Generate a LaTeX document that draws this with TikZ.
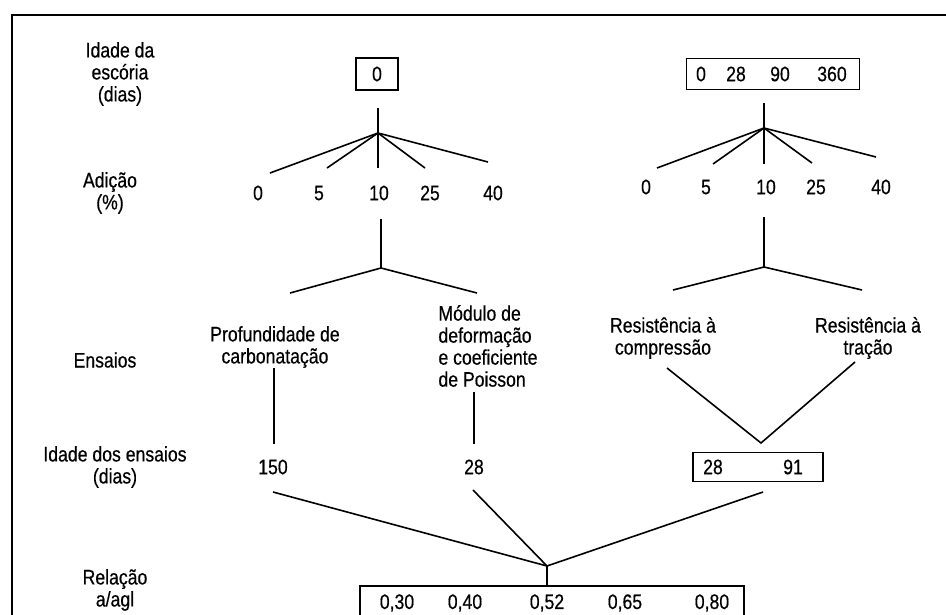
\documentclass[tikz,border=0pt]{standalone}
\usepackage{fontspec}
\setmainfont{Liberation Sans}[FakeStretch=0.84,FakeBold=0.5]
\begin{document}
\begin{tikzpicture}[x=1pt,y=-1pt,
  lbl/.style={font=\fontsize{21}{22}\selectfont, inner sep=0pt, align=center},
  lblL/.style={font=\fontsize{21}{22}\selectfont, inner sep=0pt, align=left},
  boxed/.style={draw, line width=1.6pt, inner sep=0pt},
  ln/.style={line width=1.6pt}]
\useasboundingbox (0,0) rectangle (946,614);
\clip (0,0) rectangle (946,614);
% frame (cut by the image edge)
\coordinate (fbl) at (12,650);
\coordinate (ftl) at (12,15);
\coordinate (ftr) at (960,15);
\draw[ln] (fbl) -- (ftl) -- (ftr);

% row labels
\node[lbl] (t1) at (120,74) {Idade da\\escória\\(dias)};
\node[lbl] (t2) at (110,193) {Adição\\(\%)};
\node[lbl] (t3) at (105,360) {Ensaios};
\node[lbl] (t4) at (115,467) {Idade dos ensaios\\(dias)};
\node[lbl] (t5) at (115,590) {Relação\\a/agl};

% ---------- left tree ----------
\node[boxed, lbl, minimum width=42pt, minimum height=32pt] (b0) at (377,74) {0};
\coordinate (a0) at (378,108);
\coordinate (h1) at (378,133);
\node[lbl] (n10) at (258,193) {0};
\node[lbl] (n15) at (319,193) {5};
\node[lbl] (n110) at (379,193) {10};
\node[lbl] (n125) at (430,193) {25};
\node[lbl] (n140) at (493,193) {40};
\coordinate (e10) at (270,173);
\coordinate (e15) at (327,168);
\coordinate (e110) at (378,168);
\coordinate (e125) at (425,168);
\coordinate (e140) at (488,162);
\draw[ln] (a0) -- (h1);
\foreach \e in {e10,e15,e110,e125,e140} \draw[ln] (h1) -- (\e);

\coordinate (v1) at (381,219);
\coordinate (g1) at (381,268);
\coordinate (gl1) at (290,293);
\coordinate (gr1) at (477,293);
\draw[ln] (v1) -- (g1);
\draw[ln] (gl1) -- (g1) -- (gr1);

\node[lbl] (pc) at (275,347) {Profundidade de\\carbonatação};
\node[lblL] (md) at (488,346) {Módulo de\\deformação\\e coeficiente\\de Poisson};
\coordinate (pc1) at (274,368);
\coordinate (pc2) at (274,444);
\coordinate (md1) at (474,392);
\coordinate (md2) at (474,444);
\draw[ln] (pc1) -- (pc2);
\draw[ln] (md1) -- (md2);
\node[lbl] (d150) at (273,467) {150};
\node[lbl] (d28) at (474,467) {28};

% ---------- right tree ----------
\node[boxed, minimum width=173pt, minimum height=31pt] (b1) at (773,74) {};
\node[lbl] (r0) at (701,74) {0};
\node[lbl] (r28) at (736,74) {28};
\node[lbl] (r90) at (780,74) {90};
\node[lbl] (r360) at (832,74) {360};
\coordinate (a1) at (764,103);
\coordinate (h2) at (764,128);
\node[lbl] (n20) at (646,187) {0};
\node[lbl] (n25) at (706,187) {5};
\node[lbl] (n210) at (766,187) {10};
\node[lbl] (n225) at (816,187) {25};
\node[lbl] (n240) at (881,187) {40};
\coordinate (f20) at (657,168);
\coordinate (f25) at (713,164);
\coordinate (f210) at (764,164);
\coordinate (f225) at (812,163);
\coordinate (f240) at (876,157);
\draw[ln] (a1) -- (h2);
\foreach \e in {f20,f25,f210,f225,f240} \draw[ln] (h2) -- (\e);

\coordinate (v2) at (764,217);
\coordinate (g2) at (764,267);
\coordinate (gl2) at (673,290);
\coordinate (gr2) at (862,290);
\draw[ln] (v2) -- (g2);
\draw[ln] (gl2) -- (g2) -- (gr2);

\node[lbl] (rc) at (663,338) {Resistência à\\compressão};
\node[lbl] (rt) at (868,338) {Resistência à\\tração};
\coordinate (rc1) at (667,368);
\coordinate (vv) at (761,443);
\coordinate (rt1) at (855,362);
\draw[ln] (rc1) -- (vv) -- (rt1);

\node[boxed, minimum width=130pt, minimum height=29pt] (b2) at (758,467) {};
\node[lbl] (q28) at (713,467) {28};
\node[lbl] (q91) at (793,467) {91};

% ---------- bottom ----------
\coordinate (k) at (547,566);
\coordinate (k1) at (273,492);
\coordinate (k2) at (473,490);
\coordinate (k3) at (763,492);
\coordinate (k4) at (547,586);
\draw[ln] (k1) -- (k);
\draw[ln] (k2) -- (k);
\draw[ln] (k3) -- (k);
\draw[ln] (k) -- (k4);
\coordinate (bb1) at (360,640);
\coordinate (bb2) at (360,586);
\coordinate (bb3) at (744,586);
\coordinate (bb4) at (744,640);
\draw[ln] (bb1) -- (bb2) -- (bb3) -- (bb4);
\node[lbl] (w1) at (397,603) {0,30};
\node[lbl] (w2) at (465,603) {0,40};
\node[lbl] (w3) at (547,603) {0,52};
\node[lbl] (w4) at (625,603) {0,65};
\node[lbl] (w5) at (712,603) {0,80};
\end{tikzpicture}
\end{document}
